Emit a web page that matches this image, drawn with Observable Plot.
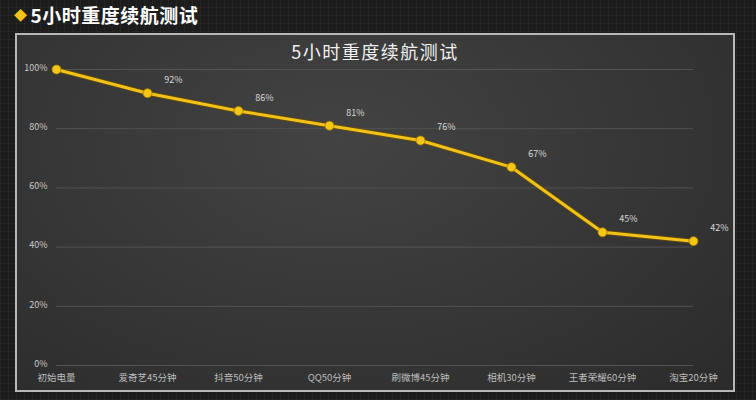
<!DOCTYPE html>
<html>
<head>
<meta charset="utf-8">
<script src="https://cdn.jsdelivr.net/npm/d3@7"></script>
<script src="https://cdn.jsdelivr.net/npm/@observablehq/plot@0.6"></script>
<style>
  html, body { margin: 0; padding: 0; }
  body {
    width: 756px; height: 400px; overflow: hidden;
    background-color: #1c1c1c;
    background-image:
      repeating-linear-gradient(0deg, rgba(255,255,255,0.035) 0 1px, transparent 1px 8px),
      repeating-linear-gradient(90deg, rgba(255,255,255,0.035) 0 1px, transparent 1px 8px);
    font-family: "Noto Sans CJK SC", "Noto Sans", sans-serif;
  }
  #wrap { position: relative; width: 756px; height: 400px; }
  #header {
    position: absolute; left: 14px; top: 1px;
    font-size: 19px; font-weight: bold; color: #fff; letter-spacing: 0.5px;
  }
  #header .dia { color: #f4c21a; font-size: 13px; vertical-align: 3px; margin-right: 3px; }
  #panel {
    position: absolute; left: 15px; top: 33px; width: 716px; height: 355px;
    border: 2px solid #b8b8b8;
    background: radial-gradient(ellipse at 45% 30%, #434343 0%, #363636 55%, #2b2b2b 100%);
  }
  #title {
    position: absolute; left: 15px; width: 720px; top: 38px; text-align: center;
    font-size: 18px; color: #f0f0f0; letter-spacing: 1.5px;
  }
  #chart { position: absolute; left: 0; top: 0; }
</style>
</head>
<body>
<div id="wrap">
  <div id="header"><span class="dia">◆</span>5小时重度续航测试</div>
  <div id="panel"></div>
  <div id="title">5小时重度续航测试</div>
  <div id="chart"></div>
</div>
<script>
const categories = ["初始电量", "爱奇艺45分钟", "抖音50分钟", "QQ50分钟", "刷微博45分钟", "相机30分钟", "王者荣耀60分钟", "淘宝20分钟"];
const values = [100, 92, 86, 81, 76, 67, 45, 42];
const yTicks = [0, 20, 40, 60, 80, 100];

const data = categories.map((c, i) => ({category: c, value: values[i], idx: i}));

const chart = Plot.plot({
  width: 756,
  height: 400,
  marginLeft: 56,
  marginRight: 63,
  marginTop: 69,
  marginBottom: 35,
  style: {background: "transparent", fontFamily: "'Noto Sans CJK SC', sans-serif", color: "#c8c8c8"},
  x: {type: "point", domain: categories, padding: 0, label: null},
  y: {domain: [0, 100], label: null},
  marks: [
    Plot.ruleY(yTicks, {stroke: "#525252", strokeWidth: 1}),
    Plot.axisY(yTicks, {tickSize: 0, tickPadding: 9, dy: -1.5, tickFormat: d => d + "%", fontSize: 9, fill: "#c8c8c8", label: null}),
    Plot.axisX({tickSize: 0, tickPadding: 9, fontSize: 9.5, fill: "#bdbdbd", label: null}),
    Plot.line(data, {x: "category", y: "value", stroke: "#6b5000", strokeWidth: 5, strokeOpacity: 0.7}),
    Plot.line(data, {x: "category", y: "value", stroke: "#f2c21b", strokeWidth: 3}),
    Plot.dot(data, {x: "category", y: "value", r: 4.5, fill: "#f5c518", stroke: "#a07c00", strokeWidth: 0.8}),
    Plot.text(data.filter(d => d.idx > 0), {x: "category", y: "value", text: d => d.value + "%", dx: 26, dy: -13, fontSize: 9, fill: "#d8d8d8"})
  ]
});
document.getElementById("chart").appendChild(chart);
</script>
</body>
</html>
